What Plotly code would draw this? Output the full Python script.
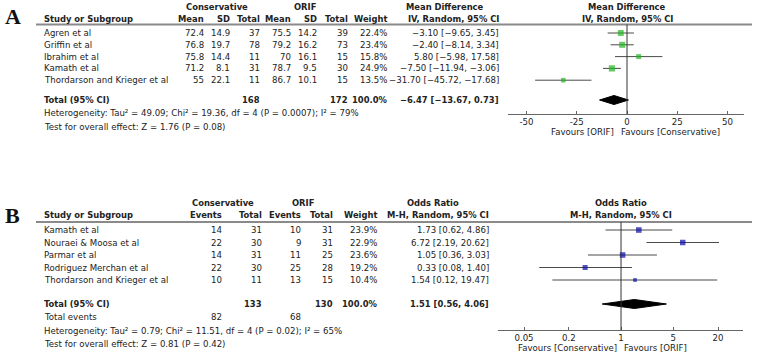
import numpy as np
import plotly.graph_objects as go

W, H = 758, 357
FONT = "DejaVu Sans"
FS = 8.6
FSB = 8.4
TXT = "#222222"

# ---------------- Panel A data ----------------
a_studies = ["Agren et al", "Griffin et al", "Ibrahim et al", "Kamath et al", "Thordarson and Krieger et al"]
a_cons_mean = ["72.4", "76.8", "75.8", "71.2", "55"]
a_cons_sd = ["14.9", "19.7", "14.4", "8.1", "22.1"]
a_cons_n = [37, 78, 11, 31, 11]
a_orif_mean = ["75.5", "79.2", "70", "78.7", "86.7"]
a_orif_sd = ["14.2", "16.2", "16.1", "9.5", "10.1"]
a_orif_n = [39, 73, 15, 30, 15]
a_weight = [22.4, 23.4, 15.8, 24.9, 13.5]
a_md = [-3.10, -2.40, 5.80, -7.50, -31.70]
a_lo = [-9.65, -8.14, -5.98, -11.94, -45.72]
a_hi = [3.45, 3.34, 17.58, -3.06, -17.68]
a_total = {"cons_n": 168, "orif_n": 172, "md": -6.47, "lo": -13.67, "hi": 0.73}
a_het = "Heterogeneity: Tau² = 49.09; Chi² = 19.36, df = 4 (P = 0.0007); I² = 79%"
a_test = "Test for overall effect: Z = 1.76 (P = 0.08)"
a_ticks = [-50, -25, 0, 25, 50]
a_ticklabels = ["-50", "-25", "0", "25", "50"]

# ---------------- Panel B data ----------------
b_studies = ["Kamath et al", "Nouraei & Moosa et al", "Parmar et al", "Rodriguez Merchan et al", "Thordarson and Krieger et al"]
b_cons_ev = [14, 22, 14, 22, 10]
b_cons_n = [31, 30, 31, 30, 11]
b_orif_ev = [10, 9, 11, 25, 13]
b_orif_n = [31, 31, 25, 28, 15]
b_weight = [23.9, 22.9, 23.6, 19.2, 10.4]
b_or = [1.73, 6.72, 1.05, 0.33, 1.54]
b_lo = [0.62, 2.19, 0.36, 0.08, 0.12]
b_hi = [4.86, 20.62, 3.03, 1.40, 19.47]
b_total = {"cons_n": 133, "orif_n": 130, "cons_ev": 82, "orif_ev": 68, "or": 1.51, "lo": 0.56, "hi": 4.06}
b_het = "Heterogeneity: Tau² = 0.79; Chi² = 11.51, df = 4 (P = 0.02); I² = 65%"
b_test = "Test for overall effect: Z = 0.81 (P = 0.42)"
b_ticks = [0.05, 0.2, 1, 5, 20]
b_ticklabels = ["0.05", "0.2", "1", "5", "20"]


def fmt(v):
    s = f"{v:.2f}"
    return s.replace("-", "−")


def ci_text(e, lo, hi):
    return f"{fmt(e)} [{fmt(lo)}, {fmt(hi)}]"


fig = go.Figure()
ann = []


def txt(x, y, s, anchor="left", bold=False, size=None, color=TXT, family=FONT):
    if size is None:
        size = FSB if bold else FS
    ann.append(dict(x=x / W, y=y, xref="paper", yref="y", text=f"<b>{s}</b>" if bold else s,
                    showarrow=False, xanchor=anchor, yanchor="middle",
                    font=dict(family=family, size=size, color=color), borderpad=0))


shapes = []


def hline(x0, x1, y, color="#8a8a8a", width=2):
    shapes.append(dict(type="line", xref="paper", yref="y", x0=x0 / W, x1=x1 / W, y0=y, y1=y,
                       line=dict(color=color, width=width)))


# ---------------- Layout geometry (pixels) ----------------
NAME_X = 43
# Panel A
A_HDR1, A_HDR2, A_LINE = 7, 19, 24.5
A_ROW0, A_DY = 33, 11.8
A_TOT, A_HET, A_TEST = 100, 113, 127
A_AXIS = 114
A_COLS = [205, 231, 261, 292, 318, 349, 388, 500]
# Panel B
B_HDR1, B_HDR2, B_LINE = 203, 215, 222
B_ROW0, B_DY = 230, 12.5
B_TOT, B_EV, B_HET, B_TEST = 304, 317, 331, 344
B_AXIS = 330
B_COLS = [223, 263, 302, 334, 378, 490]

# ---------- Panel A text ----------
txt(13, 16, "A", anchor="center", bold=True, size=22, family="Liberation Serif", color="#111")
txt(217, A_HDR1, "Conservative", "center", True)
txt(305, A_HDR1, "ORIF", "center", True)
txt(445, A_HDR1, "Mean Difference", "center", True)
txt(627, A_HDR1, "Mean Difference", "center", True)
txt(NAME_X, A_HDR2, "Study or Subgroup", "left", True)
for x, s in zip(A_COLS, ["Mean", "SD", "Total", "Mean", "SD", "Total", "Weight", "IV, Random, 95% CI"]):
    txt(x, A_HDR2, s, "right", True)
txt(627, A_HDR2, "IV, Random, 95% CI", "center", True)
hline(36, 752, A_LINE)

a_rows_y = [A_ROW0 + i * A_DY for i in range(len(a_studies))]
for i, y in enumerate(a_rows_y):
    txt(NAME_X, y, a_studies[i])
    vals = [a_cons_mean[i], a_cons_sd[i], str(a_cons_n[i]), a_orif_mean[i], a_orif_sd[i],
            str(a_orif_n[i]), f"{a_weight[i]:.1f}%", ci_text(a_md[i], a_lo[i], a_hi[i])]
    for x, s in zip(A_COLS, vals):
        txt(x, y, s, "right")
txt(NAME_X, A_TOT, "Total (95% CI)", "left", True)
txt(A_COLS[2], A_TOT, str(a_total["cons_n"]), "right", True)
txt(A_COLS[5], A_TOT, str(a_total["orif_n"]), "right", True)
txt(A_COLS[6], A_TOT, "100.0%", "right", True)
txt(A_COLS[7], A_TOT, ci_text(a_total["md"], a_total["lo"], a_total["hi"]), "right", True)
txt(NAME_X, A_HET, a_het)
txt(NAME_X, A_TEST, a_test)
txt(615, 132, "Favours [ORIF]", "right")
txt(620, 132, "Favours [Conservative]", "left")

# ---------- Panel B text ----------
txt(12, 215, "B", anchor="center", bold=True, size=22, family="Liberation Serif", color="#111")
txt(223, B_HDR1, "Conservative", "center", True)
txt(303, B_HDR1, "ORIF", "center", True)
txt(433, B_HDR1, "Odds Ratio", "center", True)
txt(621, B_HDR1, "Odds Ratio", "center", True)
txt(NAME_X, B_HDR2, "Study or Subgroup", "left", True)
for x, s in zip(B_COLS, ["Events", "Total", "Events", "Total", "Weight", "M-H, Random, 95% CI"]):
    txt(x, B_HDR2, s, "right", True)
txt(621, B_HDR2, "M-H, Random, 95% CI", "center", True)
hline(36, 752, B_LINE)

b_rows_y = [B_ROW0 + i * B_DY for i in range(len(b_studies))]
for i, y in enumerate(b_rows_y):
    txt(NAME_X, y, b_studies[i])
    vals = [str(b_cons_ev[i]), str(b_cons_n[i]), str(b_orif_ev[i]), str(b_orif_n[i]),
            f"{b_weight[i]:.1f}%", ci_text(b_or[i], b_lo[i], b_hi[i])]
    for x, s in zip(B_COLS, vals):
        txt(x, y, s, "right")
txt(NAME_X, B_TOT, "Total (95% CI)", "left", True)
txt(B_COLS[1], B_TOT, str(b_total["cons_n"]), "right", True)
txt(B_COLS[3], B_TOT, str(b_total["orif_n"]), "right", True)
txt(B_COLS[4], B_TOT, "100.0%", "right", True)
txt(B_COLS[5], B_TOT, ci_text(b_total["or"], b_total["lo"], b_total["hi"]), "right", True)
txt(NAME_X, B_EV, "Total events")
txt(B_COLS[0], B_EV, str(b_total["cons_ev"]), "right")
txt(B_COLS[2], B_EV, str(b_total["orif_ev"]), "right")
txt(NAME_X, B_HET, b_het)
txt(NAME_X, B_TEST, b_test)
txt(618, 348, "Favours [Conservative]", "right")
txt(623, 348, "Favours [ORIF]", "left")

# ---------- Forest plot marks ----------
CI_COL = "#4a4a4a"
for i, y in enumerate(a_rows_y):
    fig.add_trace(go.Scatter(x=[a_lo[i], a_hi[i]], y=[y, y], mode="lines", xaxis="x", yaxis="y",
                             line=dict(color=CI_COL, width=1), hoverinfo="skip", showlegend=False))
fig.add_trace(go.Scatter(x=a_md, y=a_rows_y, mode="markers", xaxis="x", yaxis="y",
                         marker=dict(symbol="square", color="#22b522",
                                     size=[1.25 * np.sqrt(w) for w in a_weight], line=dict(width=0)),
                         showlegend=False))
DH = 4.5
fig.add_trace(go.Scatter(x=[a_total["lo"], a_total["md"], a_total["hi"], a_total["md"], a_total["lo"]],
                         y=[A_TOT, A_TOT - DH, A_TOT, A_TOT + DH, A_TOT], mode="lines", fill="toself",
                         fillcolor="black", line=dict(color="black", width=1), xaxis="x", yaxis="y",
                         showlegend=False))

for i, y in enumerate(b_rows_y):
    fig.add_trace(go.Scatter(x=[b_lo[i], b_hi[i]], y=[y, y], mode="lines", xaxis="x2", yaxis="y",
                             line=dict(color=CI_COL, width=1), hoverinfo="skip", showlegend=False))
fig.add_trace(go.Scatter(x=b_or, y=b_rows_y, mode="markers", xaxis="x2", yaxis="y",
                         marker=dict(symbol="square", color="#0a0aa8",
                                     size=[1.15 * np.sqrt(w) for w in b_weight], line=dict(width=0)),
                         showlegend=False))
fig.add_trace(go.Scatter(x=[b_total["lo"], b_total["or"], b_total["hi"], b_total["or"], b_total["lo"]],
                         y=[B_TOT, B_TOT - DH, B_TOT, B_TOT + DH, B_TOT], mode="lines", fill="toself",
                         fillcolor="black", line=dict(color="black", width=1), xaxis="x2", yaxis="y",
                         showlegend=False))

# null lines
shapes.append(dict(type="line", xref="x", yref="y", x0=0, x1=0, y0=A_LINE, y1=A_AXIS,
                   line=dict(color="#333", width=1)))
shapes.append(dict(type="line", xref="x2", yref="y", x0=1, x1=1, y0=B_LINE, y1=B_AXIS,
                   line=dict(color="#333", width=1)))

axis_common = dict(showgrid=False, zeroline=False, showline=True, linecolor="#666", linewidth=1,
                   ticks="inside", ticklen=3, tickcolor="#666", anchor="free",
                   tickfont=dict(family=FONT, size=FS, color=TXT), fixedrange=True)

fig.update_layout(
    width=W, height=H, margin=dict(l=0, r=0, t=0, b=0, pad=0),
    paper_bgcolor="white", plot_bgcolor="rgba(0,0,0,0)", showlegend=False,
    xaxis=dict(domain=[508 / W, 744 / W], range=[-59.2, 58.2], tickvals=a_ticks, ticktext=a_ticklabels,
               position=1 - A_AXIS / H, **axis_common),
    xaxis2=dict(domain=[498 / W, 743 / W], type="log", range=[np.log10(0.0224), np.log10(43.2)],
                tickvals=b_ticks, ticktext=b_ticklabels, position=1 - B_AXIS / H, **axis_common),
    yaxis=dict(domain=[0, 1], range=[H, 0], visible=False, fixedrange=True),
    annotations=ann, shapes=shapes,
)

fig.write_html("out.html", config={"displayModeBar": False},
               post_script="document.body.style.margin='0';document.body.style.overflow='hidden';")
